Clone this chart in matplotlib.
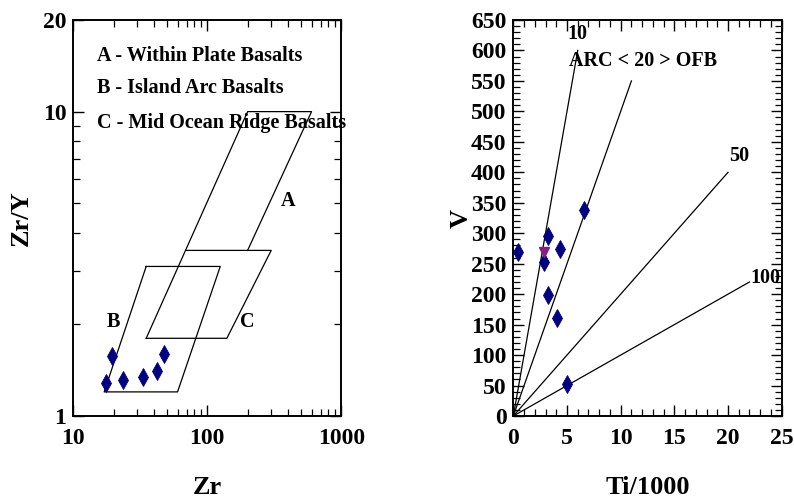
import matplotlib
matplotlib.use("Agg")
import matplotlib.pyplot as plt
from matplotlib.ticker import FixedLocator, NullFormatter

plt.rcParams['font.family'] = ['Liberation Serif', 'DejaVu Serif']
plt.rcParams['font.weight'] = 'bold'

# Zr/Y vs Zr (Pearce & Norry) samples
zr = [19.5, 17.4, 23.3, 33.3, 42.1, 47.2]
zr_y = [1.58, 1.28, 1.31, 1.34, 1.41, 1.60]

# field boundaries
wpb_zr = [35, 200, 600, 200]
wpb_ratio = [1.8, 10, 10, 3.5]
morb_zr = [70, 300, 140, 35]
morb_ratio = [3.5, 3.5, 1.8, 1.8]
iab_zr = [35, 125, 60, 17, 35]
iab_ratio = [3.1, 3.1, 1.2, 1.2, 3.1]

# Ti/1000 vs V (Shervais) samples
ti = [0.41, 2.89, 3.26, 3.20, 4.35, 4.07, 6.58, 4.97]
v = [268.7, 253.5, 295.0, 199.0, 273.6, 161.4, 338.1, 52.0]
ti_tri = [2.89]
v_tri = [270.0]

# Ti/V ratio lines and where they stop
ratios = [10, 20, 50, 100]
ratio_end = [6, 11, 20, 22]

fig = plt.figure(figsize=(7.94, 5.0), dpi=100)
ax1 = fig.add_axes([0.0923, 0.168, 0.3375, 0.792])
ax2 = fig.add_axes([0.6465, 0.168, 0.338, 0.792])

navy = '#000080'

# ---- left panel
ax1.plot(wpb_zr, wpb_ratio, color='black', lw=0.9)
ax1.plot(morb_zr, morb_ratio, color='black', lw=0.9)
ax1.plot(iab_zr, iab_ratio, color='black', lw=0.9)
ax1.plot(zr, zr_y, 'd', color=navy, ms=9, mec=navy, mew=0.6)
ax1.set_xscale('log')
ax1.set_yscale('log')
ax1.set_xlim(10, 1000)
ax1.set_ylim(1, 20)
ax1.xaxis.set_major_locator(FixedLocator([10, 100, 1000]))
ax1.xaxis.set_minor_locator(FixedLocator([20, 30, 40, 50, 60, 70, 80, 90,
                                          200, 300, 400, 500, 600, 700, 800, 900]))
ax1.set_xticklabels(['10', '100', '1000'])
ax1.yaxis.set_major_locator(FixedLocator([1, 10, 20]))
ax1.yaxis.set_minor_locator(FixedLocator([2, 3, 4, 5, 6, 7, 8, 9]))
ax1.set_yticklabels(['1', '10', '20'])
ax1.xaxis.set_minor_formatter(NullFormatter())
ax1.yaxis.set_minor_formatter(NullFormatter())

tsz = 14.5
ax1.text(0.088, 0.909, 'A - Within Plate Basalts', transform=ax1.transAxes,
         fontsize=tsz, fontweight='bold', va='center')
ax1.text(0.088, 0.828, 'B - Island Arc Basalts', transform=ax1.transAxes,
         fontsize=tsz, fontweight='bold', va='center')
ax1.text(0.088, 0.74, 'C - Mid Ocean Ridge Basalts', transform=ax1.transAxes,
         fontsize=tsz, fontweight='bold', va='center')
ax1.text(400, 5.1, 'A', fontsize=tsz, fontweight='bold', ha='center', va='center')
ax1.text(19.8, 2.04, 'B', fontsize=tsz, fontweight='bold', ha='center', va='center')
ax1.text(200, 2.04, 'C', fontsize=tsz, fontweight='bold', ha='center', va='center')

ax1.set_xlabel('Zr', fontsize=19, fontweight='bold')
ax1.set_ylabel('Zr/Y', fontsize=19, fontweight='bold')
ax1.xaxis.set_label_coords(0.5, -0.152)
ax1.yaxis.set_label_coords(-0.152, 0.5)

# ---- right panel
for r, xe in zip(ratios, ratio_end):
    ax2.plot([0, xe], [0, xe * 1000 / r], color='black', lw=0.9)
ax2.plot(ti, v, 'd', color=navy, ms=9, mec=navy, mew=0.6)
ax2.plot(ti_tri, v_tri, 'v', color='#8b1a84', ms=7, mec='#8b1a84')
ax2.set_xlim(0, 25)
ax2.set_ylim(0, 650)
ax2.set_xticks(range(0, 26, 5))
ax2.set_xticks(range(0, 26, 1), minor=True)
ax2.set_yticks(range(0, 651, 50))
ax2.set_yticks(range(0, 651, 10), minor=True)

ax2.text(5.07, 627, '10', fontsize=tsz, fontweight='bold', va='center')
ax2.text(5.2, 582, 'ARC < 20 > OFB', fontsize=tsz, fontweight='bold', va='center')
ax2.text(20.1, 426, '50', fontsize=tsz, fontweight='bold', va='center')
ax2.text(22.1, 226, '100', fontsize=tsz, fontweight='bold', va='center')

ax2.set_xlabel('Ti/1000', fontsize=19, fontweight='bold')
ax2.set_ylabel('V', fontsize=19, fontweight='bold')
ax2.xaxis.set_label_coords(0.5, -0.152)
ax2.yaxis.set_label_coords(-0.152, 0.5)

for ax in (ax1, ax2):
    for s in ax.spines.values():
        s.set_linewidth(1.4)
    ax.tick_params(which='both', direction='in', top=True, right=True,
                   labelsize=17)
    ax.tick_params(which='major', length=8, width=1.0)
    ax.tick_params(which='minor', length=5, width=0.9)
    ax.tick_params(axis='x', which='major', pad=9)
    ax.tick_params(axis='y', which='major', pad=5)
    for lab in ax.get_xticklabels() + ax.get_yticklabels():
        lab.set_fontweight('bold')

fig.savefig('out.png', dpi=100)
